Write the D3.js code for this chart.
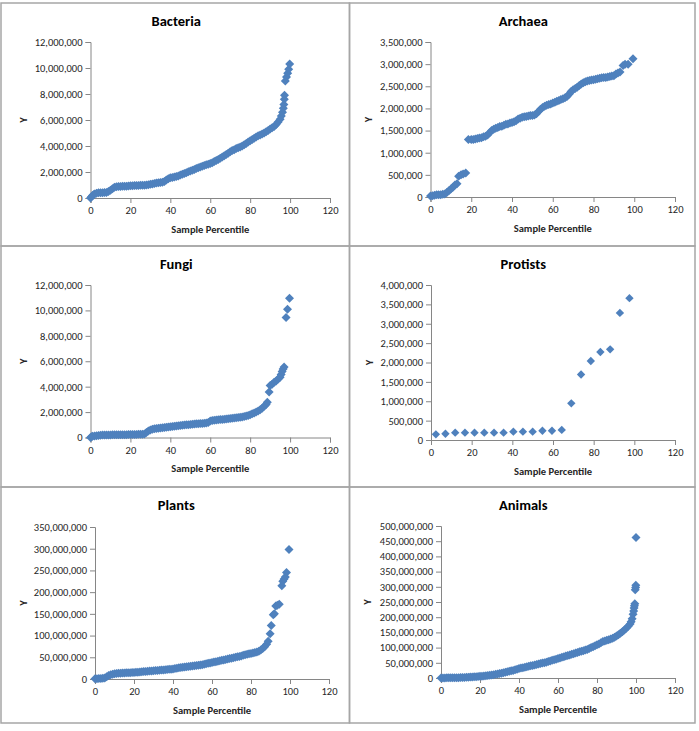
<!DOCTYPE html>
<html>
<head>
<meta charset="utf-8">
<script src="https://cdn.jsdelivr.net/npm/d3@7"></script>
<style>
  html, body { margin: 0; padding: 0; background: #fff; }
  svg { display: block; }
  text { font-family: Carlito, Calibri, "Liberation Sans", Arial, sans-serif; }
</style>
</head>
<body>
<svg id="chart" width="699" height="731"></svg>
<script>
// ---------------- DATA ----------------
const titles = ["Bacteria", "Archaea", "Fungi", "Protists", "Plants", "Animals"];
const xTicks = [0, 20, 40, 60, 80, 100, 120];
const xLabel = "Sample Percentile";
const yLabel = "Y";

const bacteriaTicks = [0, 2e6, 4e6, 6e6, 8e6, 10e6, 12e6];
const archaeaTicks = [0, 5e5, 1e6, 1.5e6, 2e6, 2.5e6, 3e6, 3.5e6];
const fungiTicks = [0, 2e6, 4e6, 6e6, 8e6, 10e6, 12e6];
const protistsTicks = [0, 5e5, 1e6, 1.5e6, 2e6, 2.5e6, 3e6, 3.5e6, 4e6];
const plantsTicks = [0, 5e7, 1e8, 1.5e8, 2e8, 2.5e8, 3e8, 3.5e8];
const animalsTicks = [0, 5e7, 1e8, 1.5e8, 2e8, 2.5e8, 3e8, 3.5e8, 4e8, 4.5e8, 5e8];

// [percentile, value]
const bacteria = [[0,0],[0.5,1.0e5],[1,2.0e5],[1.5,2.5e5],[2,3.0e5],[3,3.6e5],[4,4.0e5],[5,4.0e5],[6,4.1e5],[7,4.2e5],[8,4.3e5],[9,5.0e5],[10,6.0e5],[11,7.2e5],[12,8.2e5],[13,8.6e5],[14,8.8e5],[15,8.9e5],[16,9.0e5],[17,9.0e5],[18,9.1e5],[19,9.2e5],[20,9.4e5],[21,9.5e5],[22,9.6e5],[23,9.7e5],[24,9.7e5],[25,9.8e5],[26,9.8e5],[27,9.9e5],[28,1.0e6],[29,1.02e6],[30,1.05e6],[31,1.08e6],[32,1.12e6],[33,1.15e6],[34,1.18e6],[35,1.2e6],[36,1.22e6],[37,1.26e6],[38,1.38e6],[39,1.48e6],[40,1.55e6],[41,1.58e6],[42,1.62e6],[43,1.66e6],[44,1.7e6],[45,1.76e6],[46,1.82e6],[47,1.88e6],[48,1.95e6],[49,2.02e6],[50,2.08e6],[51,2.14e6],[52,2.2e6],[53,2.26e6],[54,2.32e6],[55,2.38e6],[56,2.44e6],[57,2.5e6],[58,2.55e6],[59,2.6e6],[60,2.66e6],[61,2.72e6],[62,2.8e6],[63,2.88e6],[64,2.96e6],[65,3.05e6],[66,3.15e6],[67,3.25e6],[68,3.35e6],[69,3.45e6],[70,3.55e6],[71,3.65e6],[72,3.72e6],[73,3.8e6],[74,3.86e6],[75,3.92e6],[76,4.0e6],[77,4.1e6],[78,4.2e6],[79,4.3e6],[80,4.4e6],[81,4.5e6],[82,4.6e6],[83,4.7e6],[84,4.78e6],[85,4.85e6],[86,4.92e6],[87,5.0e6],[88,5.1e6],[89,5.2e6],[90,5.3e6],[91,5.4e6],[92,5.5e6],[93,5.65e6],[94,5.85e6],[95,6.05e6],[95.6,6.3e6],[96.2,6.6e6],[96.6,6.9e6],[96.9,7.2e6],[97.1,7.6e6],[97.2,7.9e6],[97.6,9.0e6],[98.2,9.3e6],[98.8,9.6e6],[99.3,9.9e6],[99.8,10.3e6]];

const archaea = [[0,2e4],[1,3e4],[2,4e4],[3,5e4],[4,5e4],[5,5e4],[6,6e4],[7,7e4],[8,1.0e5],[9,1.4e5],[10,1.8e5],[11,2.2e5],[12,2.7e5],[13,3.0e5],[13.8,4.7e5],[15,5.0e5],[16,5.2e5],[17.3,5.4e5],[18.6,1.3e6],[20,1.3e6],[21,1.3e6],[22,1.31e6],[23,1.32e6],[24,1.33e6],[25,1.34e6],[26,1.36e6],[27,1.37e6],[28,1.4e6],[29,1.45e6],[30,1.5e6],[31,1.53e6],[32,1.55e6],[33,1.57e6],[34,1.59e6],[35,1.6e6],[36,1.62e6],[37,1.64e6],[38,1.65e6],[39,1.67e6],[40,1.68e6],[41,1.7e6],[42,1.72e6],[43,1.76e6],[44,1.78e6],[45,1.8e6],[46,1.81e6],[47,1.82e6],[48,1.83e6],[49,1.84e6],[50,1.84e6],[51,1.85e6],[52,1.88e6],[53,1.93e6],[54,1.98e6],[55,2.02e6],[56,2.05e6],[57,2.07e6],[58,2.09e6],[59,2.1e6],[60,2.12e6],[61,2.14e6],[62,2.16e6],[63,2.18e6],[64,2.2e6],[65,2.22e6],[66,2.24e6],[67,2.27e6],[68,2.32e6],[69,2.38e6],[70,2.42e6],[71,2.45e6],[72,2.48e6],[73,2.52e6],[74,2.55e6],[75,2.58e6],[76,2.6e6],[77,2.62e6],[78,2.63e6],[79,2.64e6],[80,2.65e6],[81,2.66e6],[82,2.67e6],[83,2.68e6],[84,2.69e6],[85,2.7e6],[86,2.7e6],[87,2.71e6],[88,2.72e6],[89,2.73e6],[90,2.74e6],[91,2.78e6],[92,2.8e6],[93,2.82e6],[94.5,2.97e6],[95.5,3.0e6],[97,3.0e6],[99.4,3.12e6]];

const fungi = [[0,0],[0.5,5e4],[1,1.0e5],[2,1.2e5],[3,1.4e5],[4,1.6e5],[5,1.8e5],[6,1.9e5],[7,2.0e5],[8,2.0e5],[9,2.0e5],[10,2.0e5],[11,2.1e5],[12,2.1e5],[13,2.1e5],[14,2.1e5],[15,2.2e5],[16,2.2e5],[17,2.2e5],[18,2.2e5],[19,2.3e5],[20,2.3e5],[21,2.4e5],[22,2.4e5],[23,2.4e5],[24,2.5e5],[25,2.5e5],[26,2.6e5],[27,2.8e5],[28,4.0e5],[29,5.2e5],[30,6.0e5],[31,6.5e5],[32,6.8e5],[33,7.0e5],[34,7.2e5],[35,7.4e5],[36,7.6e5],[37,7.8e5],[38,8.0e5],[39,8.2e5],[40,8.4e5],[41,8.6e5],[42,8.8e5],[43,9.0e5],[44,9.2e5],[45,9.4e5],[46,9.6e5],[47,9.8e5],[48,1.0e6],[49,1.01e6],[50,1.02e6],[51,1.04e6],[52,1.06e6],[53,1.08e6],[54,1.09e6],[55,1.1e6],[56,1.11e6],[57,1.12e6],[58,1.14e6],[59,1.18e6],[60,1.3e6],[61,1.33e6],[62,1.36e6],[63,1.38e6],[64,1.4e6],[65,1.41e6],[66,1.42e6],[67,1.44e6],[68,1.46e6],[69,1.48e6],[70,1.5e6],[71,1.52e6],[72,1.54e6],[73,1.56e6],[74,1.58e6],[75,1.6e6],[76,1.62e6],[77,1.66e6],[78,1.7e6],[79,1.74e6],[80,1.8e6],[81,1.86e6],[82,1.92e6],[83,2.0e6],[84,2.08e6],[85,2.18e6],[86,2.3e6],[87,2.45e6],[88,2.6e6],[88.6,2.78e6],[89.5,3.58e6],[90,4.1e6],[91,4.2e6],[92,4.35e6],[93,4.45e6],[94,4.6e6],[95,4.75e6],[95.5,4.95e6],[96,5.2e6],[96.5,5.4e6],[97,5.55e6],[98,9.45e6],[98.7,10.1e6],[99.7,10.95e6]];

const protists = [[2.4,1.46e5],[7.1,1.63e5],[11.9,1.9e5],[16.7,1.9e5],[21.4,1.9e5],[26.2,1.9e5],[31.0,1.9e5],[35.7,1.9e5],[40.5,2.15e5],[45.2,2.15e5],[50.0,2.15e5],[54.8,2.4e5],[59.5,2.4e5],[64.3,2.6e5],[69.0,9.46e5],[73.8,1.69e6],[78.6,2.04e6],[83.3,2.27e6],[88.1,2.34e6],[92.9,3.28e6],[97.6,3.66e6]];

const plants = [[0,5e5],[1,8e5],[2,1e6],[3,1.2e6],[4,1.5e6],[5,2.5e6],[6,5e6],[7,8e6],[8,1.0e7],[9,1.1e7],[10,1.2e7],[11,1.25e7],[12,1.3e7],[13,1.33e7],[14,1.36e7],[15,1.4e7],[16,1.42e7],[17,1.44e7],[18,1.46e7],[19,1.48e7],[20,1.5e7],[21,1.54e7],[22,1.58e7],[23,1.62e7],[24,1.66e7],[25,1.7e7],[26,1.74e7],[27,1.78e7],[28,1.82e7],[29,1.86e7],[30,1.9e7],[31,1.94e7],[32,1.98e7],[33,2.02e7],[34,2.06e7],[35,2.1e7],[36,2.14e7],[37,2.18e7],[38,2.22e7],[39,2.26e7],[40,2.3e7],[41,2.4e7],[42,2.5e7],[43,2.6e7],[44,2.65e7],[45,2.7e7],[46,2.76e7],[47,2.82e7],[48,2.88e7],[49,2.94e7],[50,3.0e7],[51,3.06e7],[52,3.12e7],[53,3.18e7],[54,3.24e7],[55,3.3e7],[56,3.4e7],[57,3.5e7],[58,3.6e7],[59,3.7e7],[60,3.8e7],[61,3.9e7],[62,4.0e7],[63,4.1e7],[64,4.2e7],[65,4.3e7],[66,4.4e7],[67,4.5e7],[68,4.6e7],[69,4.7e7],[70,4.8e7],[71,4.9e7],[72,5.0e7],[73,5.1e7],[74,5.2e7],[75,5.3e7],[76,5.45e7],[77,5.6e7],[78,5.7e7],[79,5.8e7],[80,5.9e7],[81,6.0e7],[82,6.1e7],[83,6.2e7],[84,6.4e7],[85,6.7e7],[86,7.0e7],[87,7.4e7],[88,8.0e7],[88.8,8.7e7],[89.8,1.04e8],[90.4,1.23e8],[91.4,1.48e8],[92,1.5e8],[92.7,1.68e8],[93.5,1.7e8],[94.5,1.72e8],[95.8,2.15e8],[96.3,2.25e8],[97,2.3e8],[97.6,2.35e8],[98.2,2.45e8],[99.5,2.98e8]];

const animals = [[0,2e5],[1,3e5],[2,4e5],[3,5e5],[4,6e5],[5,7e5],[6,8e5],[7,9e5],[8,1.0e6],[9,1.2e6],[10,1.4e6],[11,1.6e6],[12,1.9e6],[13,2.2e6],[14,2.5e6],[15,2.9e6],[16,3.3e6],[17,3.8e6],[18,4.3e6],[19,4.9e6],[20,5.5e6],[21,6.1e6],[22,6.8e6],[23,7.5e6],[24,8.3e6],[25,9.1e6],[26,1.0e7],[27,1.1e7],[28,1.2e7],[29,1.3e7],[30,1.45e7],[31,1.6e7],[32,1.75e7],[33,1.9e7],[34,2.05e7],[35,2.2e7],[36,2.35e7],[37,2.5e7],[38,2.7e7],[39,2.9e7],[40,3.1e7],[41,3.25e7],[42,3.4e7],[43,3.55e7],[44,3.7e7],[45,3.85e7],[46,4.0e7],[47,4.15e7],[48,4.3e7],[49,4.45e7],[50,4.6e7],[51,4.75e7],[52,4.9e7],[53,5.05e7],[54,5.2e7],[55,5.4e7],[56,5.6e7],[57,5.8e7],[58,6.0e7],[59,6.2e7],[60,6.4e7],[61,6.6e7],[62,6.8e7],[63,7.0e7],[64,7.2e7],[65,7.4e7],[66,7.6e7],[67,7.8e7],[68,8.0e7],[69,8.2e7],[70,8.4e7],[71,8.6e7],[72,8.8e7],[73,9.0e7],[74,9.2e7],[75,9.4e7],[76,9.7e7],[77,1.0e8],[78,1.03e8],[79,1.06e8],[80,1.09e8],[81,1.12e8],[82,1.16e8],[83,1.2e8],[84,1.22e8],[85,1.24e8],[86,1.26e8],[87,1.28e8],[88,1.31e8],[89,1.34e8],[90,1.38e8],[91,1.42e8],[92,1.47e8],[93,1.52e8],[94,1.58e8],[95,1.64e8],[96,1.7e8],[97,1.78e8],[97.5,1.85e8],[98,1.95e8],[98.5,2.1e8],[98.8,2.2e8],[99,2.3e8],[99.2,2.38e8],[99.4,2.44e8],[99.6,2.9e8],[99.8,2.98e8],[99.9,3.05e8],[100,4.62e8]];

// ---------------- LAYOUT ----------------
const series = [bacteria, archaea, fungi, protists, plants, animals];
const yTickSets = [bacteriaTicks, archaeaTicks, fungiTicks, protistsTicks, plantsTicks, animalsTicks];

const boxes = [
  [1, 3, 349.5, 246], [349.5, 3, 695, 246],
  [1, 246, 349.5, 487], [349.5, 246, 695, 487],
  [1, 487, 349.5, 723], [349.5, 487, 695, 723]
];
const plots = [
  {l: 90.5, r: 330, t: 42, b: 198, title: 21, yl: 23},
  {l: 430.5, r: 675, t: 42, b: 197, title: 21, yl: 368},
  {l: 90.5, r: 330, t: 285, b: 437.5, title: 264, yl: 23},
  {l: 431, r: 675, t: 285, b: 440, title: 264, yl: 369},
  {l: 95, r: 329, t: 527, b: 679, title: 505, yl: 23},
  {l: 441, r: 675, t: 526, b: 678, title: 505, yl: 367}
];

const svg = d3.select("#chart");
svg.append("rect").attr("width", 699).attr("height", 731).attr("fill", "#fff");

const markerColor = "#4F81BD";
const axisColor = "#868686";
const textColor = "#262626";
const diamond = r => `M0,${-r}L${r},0L0,${r}L${-r},0Z`;

titles.forEach((title, i) => {
  const box = boxes[i], p = plots[i];
  const g = svg.append("g");

  const x = d3.scaleLinear().domain([0, 120]).range([p.l, p.r]);
  const yMax = d3.max(yTickSets[i]);
  const y = d3.scaleLinear().domain([0, yMax]).range([p.b, p.t]);

  const ya = g.append("g").attr("transform", `translate(${p.l},0)`)
    .call(d3.axisLeft(y).tickValues(yTickSets[i]).tickFormat(d3.format(","))
      .tickSizeOuter(0).tickSize(5).tickPadding(3));
  const xa = g.append("g").attr("transform", `translate(0,${p.b})`)
    .call(d3.axisBottom(x).tickValues(xTicks).tickFormat(d3.format("d"))
      .tickSizeOuter(0).tickSize(5).tickPadding(4));
  [ya, xa].forEach(a => {
    a.select(".domain").attr("stroke", axisColor).attr("stroke-width", 1);
    a.selectAll(".tick line").attr("stroke", axisColor);
    a.selectAll(".tick text").attr("fill", textColor)
      .style("font-size", "10.5px");
  });

  const r = series[i].length > 40 ? 4.5 : 4.2;
  g.append("g").selectAll("path").data(series[i]).join("path")
    .attr("d", diamond(r))
    .attr("transform", d => `translate(${x(d[0])},${y(d[1])})`)
    .attr("fill", markerColor);

  g.append("text").attr("x", (box[0] + box[2]) / 2 + 1).attr("y", p.title)
    .attr("text-anchor", "middle").attr("dominant-baseline", "central")
    .attr("font-weight", "bold").style("font-size", "14.5px").attr("fill", "#000")
    .text(title);
  g.append("text").attr("x", (p.l + p.r) / 2).attr("y", p.b + 31)
    .attr("text-anchor", "middle").attr("dominant-baseline", "central")
    .attr("font-weight", "bold").style("font-size", "10.5px").attr("fill", textColor)
    .text(xLabel);
  g.append("text")
    .attr("transform", `translate(${p.yl},${(p.t + p.b) / 2}) rotate(-90)`)
    .attr("text-anchor", "middle").attr("dominant-baseline", "central")
    .attr("font-weight", "bold").style("font-size", "10.5px").attr("fill", textColor)
    .text(yLabel);

  svg.append("rect").attr("x", box[0]).attr("y", box[1])
    .attr("width", box[2] - box[0]).attr("height", box[3] - box[1])
    .attr("fill", "none").attr("stroke", "#a6a6a6").attr("stroke-width", 1.5);
});
</script>
</body>
</html>
